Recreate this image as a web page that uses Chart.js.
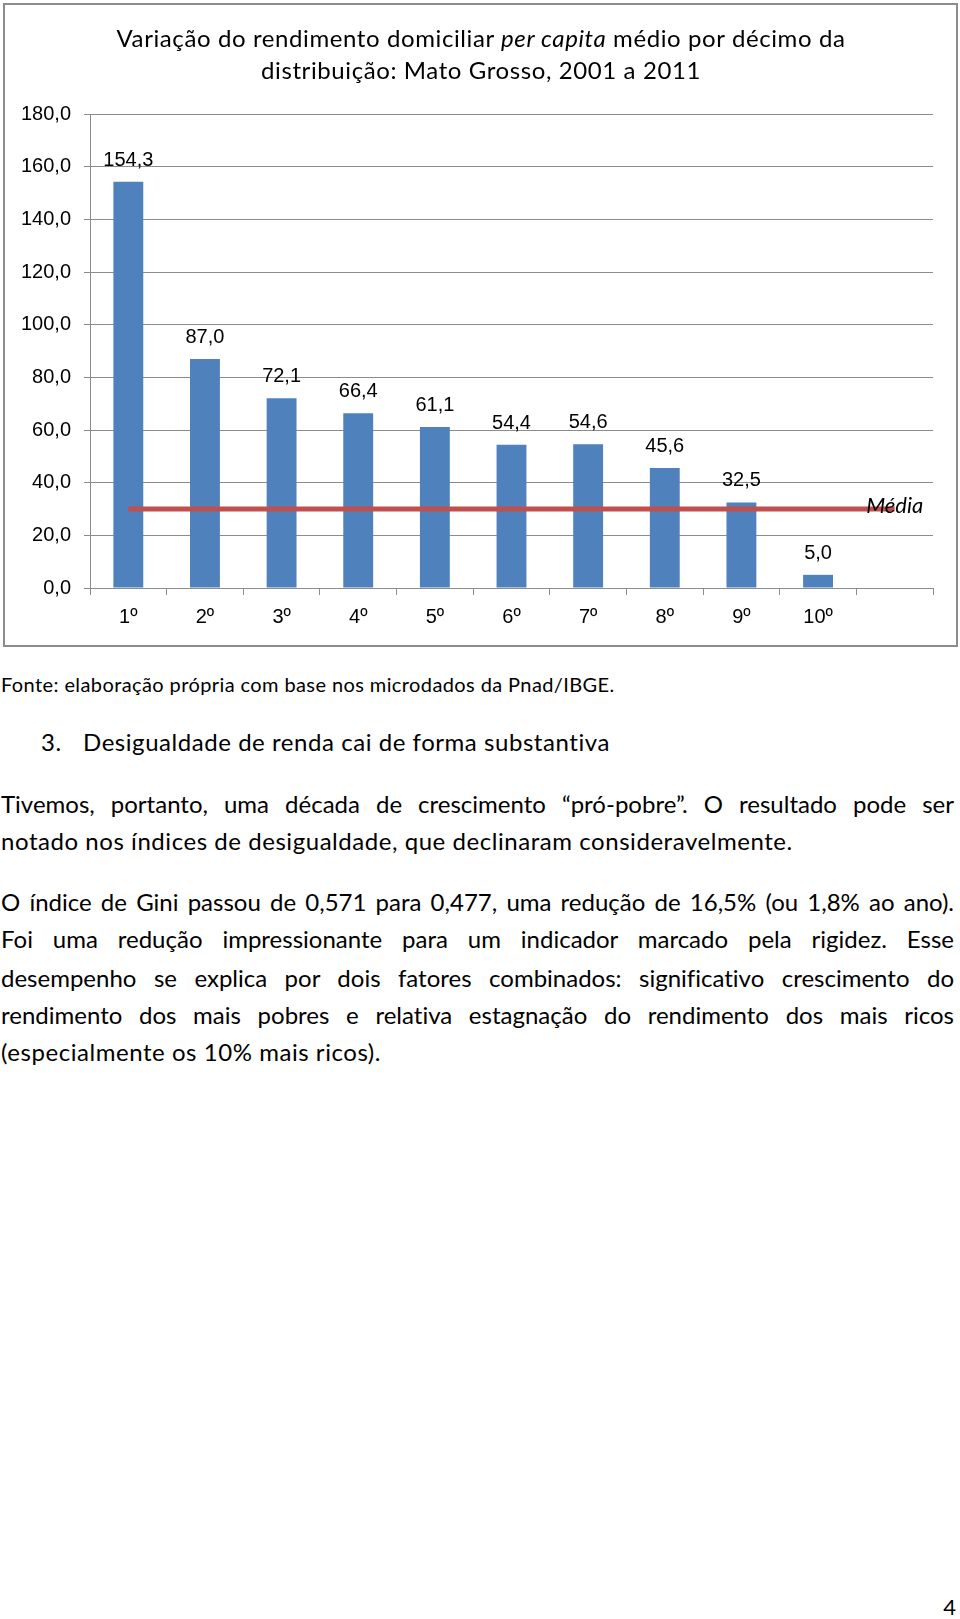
<!DOCTYPE html>
<html lang="pt-BR">
<head>
<meta charset="utf-8">
<script src="https://cdn.jsdelivr.net/npm/chart.js@4.4.0/dist/chart.umd.min.js"></script>
<style>
  body { margin: 0; background: #fff; width: 960px; height: 1619px; position: relative; font-family: Lato, sans-serif; color: #000; overflow: hidden; font-variant-ligatures: none; font-feature-settings: "liga" 0, "clig" 0; }
  #frame { position: absolute; left: 3px; top: 3px; width: 955px; height: 644px; border: 2px solid #8c8c8c; box-sizing: border-box; }
  #scoreChart { position: absolute; left: 0; top: 0; }
  #titulo { position: absolute; left: 0; width: 962px; top: 22px; text-align: center; font-size: 24px; letter-spacing: 0.6px; line-height: 32px; }
  .ln { position: absolute; left: 1px; width: 953px; height: 30px; line-height: 30px; font-size: 24px; letter-spacing: 0.55px; white-space: nowrap; }
  .just { text-align: justify; text-align-last: justify; letter-spacing: 0; }
  #fonte { font-size: 20px; letter-spacing: 0.4px; }
  #num { position: absolute; left: 930px; width: 26px; top: 1592px; text-align: right; font-size: 22px; line-height: 30px; }
</style>
</head>
<body>
<div id="frame"></div>
<canvas id="scoreChart" width="960" height="650"></canvas>
<div id="titulo">Variação do rendimento domiciliar <i>per capita</i> médio por décimo da<br>distribuição: Mato Grosso, 2001 a 2011</div>

<div class="ln" id="fonte" style="top:669px">Fonte: elaboração própria com base nos microdados da Pnad/IBGE.</div>
<div class="ln" style="top:727px"><span style="position:absolute;left:40px">3.</span><span style="position:absolute;left:82px">Desigualdade de renda cai de forma substantiva</span></div>

<div class="ln just" style="top:789px">Tivemos, portanto, uma década de crescimento “pró-pobre”. O resultado pode ser</div>
<div class="ln" style="top:826px">notado nos índices de desigualdade, que declinaram consideravelmente.</div>

<div class="ln just" style="top:887px">O índice de Gini passou de 0,571 para 0,477, uma redução de 16,5% (ou 1,8% ao ano).</div>
<div class="ln just" style="top:924px">Foi uma redução impressionante para um indicador marcado pela rigidez. Esse</div>
<div class="ln just" style="top:963px">desempenho se explica por dois fatores combinados: significativo crescimento do</div>
<div class="ln just" style="top:1000px">rendimento dos mais pobres e relativa estagnação do rendimento dos mais ricos</div>
<div class="ln" style="top:1037px">(especialmente os 10% mais ricos).</div>

<div id="num">4</div>

<script>
// décimos da distribuição (a última posição fica vazia, como no original)
const decimos = ['1º', '2º', '3º', '4º', '5º', '6º', '7º', '8º', '9º', '10º', ''];
// variação (%) do rendimento por décimo, 2001 a 2011
const variacao = [154.3, 87.0, 72.1, 66.4, 61.1, 54.4, 54.6, 45.6, 32.5, 5.0, null];
// linha da média
const media = [30.0, 30.0, 30.0, 30.0, 30.0, 30.0, 30.0, 30.0, 30.0, 30.0, 30.0];
const yMin = 0, yMax = 180, yPasso = 20;

const fmt = v => v.toFixed(1).replace('.', ',');
const fonteEixo = { family: '"Liberation Sans", Arial, sans-serif', size: 20 };
const cinza = '#8c8c8c';

// rótulos de valor sobre as barras + texto "Média"
const rotulos = {
    id: 'rotulos',
    afterDatasetsDraw(chart) {
        const c = chart.ctx;
        c.save();
        c.fillStyle = '#000';
        c.textAlign = 'center';
        c.textBaseline = 'alphabetic';
        c.font = '20px "Liberation Sans", Arial, sans-serif';
        chart.getDatasetMeta(1).data.forEach((bar, i) => {
            if (variacao[i] == null) return;
            c.fillText(fmt(variacao[i]), bar.x, bar.y - 16);
        });
        const pts = chart.getDatasetMeta(0).data;
        const ult = pts[pts.length - 1];
        c.font = 'italic 22px Lato, sans-serif';
        c.textBaseline = 'middle';
        c.fillText('Média', ult.x, ult.y - 3);
        c.restore();
    }
};

const ctx = document.getElementById('scoreChart').getContext('2d');

const chart = new Chart(ctx, {
    type: 'bar',
    data: {
        labels: decimos,
        datasets: [{
            type: 'line',
            label: 'Média',
            data: media,
            borderColor: '#C0504D',
            borderWidth: 5,
            pointRadius: 0,
            fill: false,
            tension: 0,
            order: 0
        }, {
            type: 'bar',
            label: 'Variação',
            data: variacao,
            backgroundColor: '#4F81BD',
            categoryPercentage: 1,
            barPercentage: 0.39,
            order: 1
        }]
    },
    options: {
        responsive: false,
        animation: false,
        layout: { padding: { top: 114, right: 27, left: 0, bottom: 0 } },
        plugins: { legend: { display: false }, tooltip: { enabled: false } },
        scales: {
            x: {
                offset: true,
                grid: { offset: true, drawOnChartArea: false, drawTicks: true, tickLength: 7, color: cinza },
                border: { color: cinza, width: 1 },
                ticks: { font: fonteEixo, color: '#000', padding: 10, maxRotation: 0 },
                afterFit(s) { s.height = 62; }
            },
            y: {
                min: yMin,
                max: yMax,
                ticks: { stepSize: yPasso, callback: v => fmt(v), font: fonteEixo, color: '#000', padding: 13 },
                grid: { color: cinza, tickLength: 6 },
                border: { color: cinza, width: 1 },
                afterFit(s) { s.width = 90; }
            }
        }
    },
    plugins: [rotulos]
});
</script>
</body>
</html>
